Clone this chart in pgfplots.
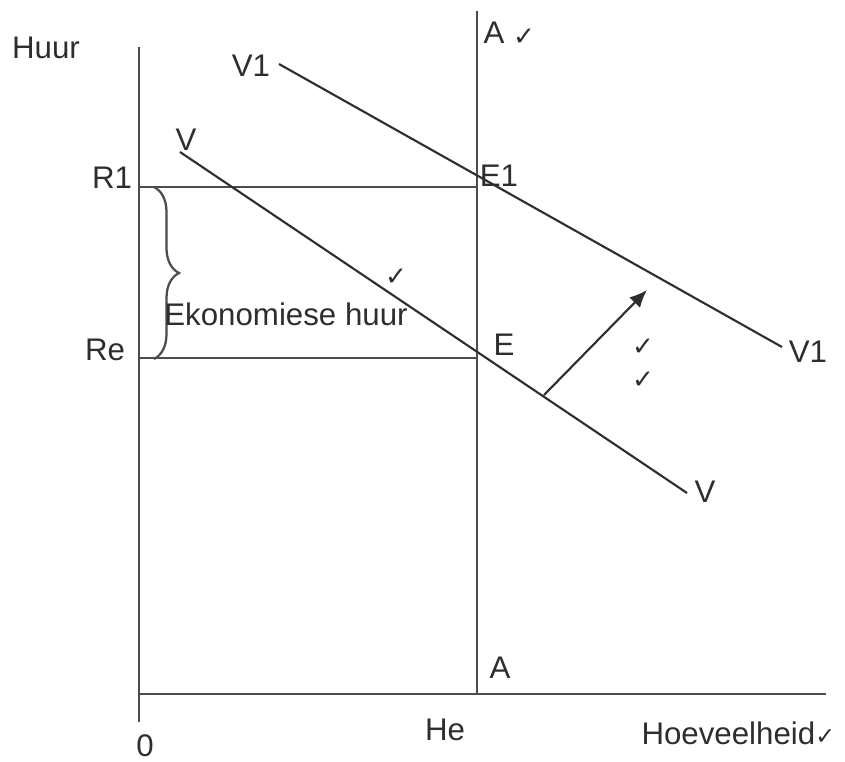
\documentclass[border=0pt]{standalone}
\usepackage{pgfplots}
\pgfplotsset{compat=1.18}
\usepackage{fontspec}
\setmainfont{Liberation Sans}
\newfontfamily\symfont{DejaVu Sans}
\usetikzlibrary{arrows.meta,decorations.pathreplacing}
\definecolor{ink}{HTML}{2E2E2E}
\begin{document}
\begin{tikzpicture}
\begin{axis}[
  width=338pt, height=304.4pt, scale only axis,
  xmin=0, xmax=845, ymin=0, ymax=761, y dir=reverse,
  hide axis, clip=false,
]
\tikzset{ln/.style={ink, line width=0.85pt}, lb/.style={inner sep=0pt, text=ink, font=\fontsize{12.5}{14}\selectfont}, ck/.style={inner sep=0pt, text=ink, font=\symfont\fontsize{10.5}{11}\selectfont}}
% axes
\addplot[ln, black!70] coordinates {(139,47) (139,722)};
\addplot[ln, black!70] coordinates {(139,694) (826,694)};
% supply A
\addplot[ln, black!70] coordinates {(477,11) (477,694)};
% rent levels
\addplot[ln, black!70] coordinates {(139,187) (477,187)};
\addplot[ln, black!70] coordinates {(139,358) (477,358)};
% demand curves
\addplot[ln] coordinates {(279,64) (782,347)};
\addplot[ln] coordinates {(180,152) (687,493)};
% shift arrow
\addplot[ln, -{Latex[length=7pt,width=6pt]}] coordinates {(544,395) (647,290)};
% brace
\draw[ln, black!70, line width=0.9pt, decorate, decoration={brace, amplitude=10pt}] (axis cs:154,187) -- (axis cs:154,359);
% labels
\node[lb] at (axis cs:46,48) {Huur};
\node[lb] at (axis cs:251,66) {V1};
\node[lb] at (axis cs:186,140) {V};
\node[lb] at (axis cs:112,178) {R1};
\node[lb] at (axis cs:105,350) {Re};
\node[lb] at (axis cs:494,33) {A};
\node[ck] at (axis cs:524,37) {✓};
\node[lb] at (axis cs:499,176) {E1};
\node[lb] at (axis cs:504,345) {E};
\node[lb] at (axis cs:808,352) {V1};
\node[lb] at (axis cs:705,492) {V};
\node[ck] at (axis cs:643,347) {✓};
\node[ck] at (axis cs:643,380) {✓};
\node[ck] at (axis cs:396,277) {✓};
\node[lb] at (axis cs:500,668) {A};
\node[lb] at (axis cs:445,730) {He};
\node[lb] at (axis cs:145,746) {0};
\node[lb, anchor=west] at (axis cs:641,733) {Hoeveelheid{\symfont\fontsize{9.5}{10}\selectfont ✓}};
\node[lb] at (axis cs:286,314) {Ekonomiese huur};
\end{axis}
\pgfresetboundingbox
\path[use as bounding box] (current axis.south west) rectangle (current axis.north east);
\end{tikzpicture}
\end{document}
